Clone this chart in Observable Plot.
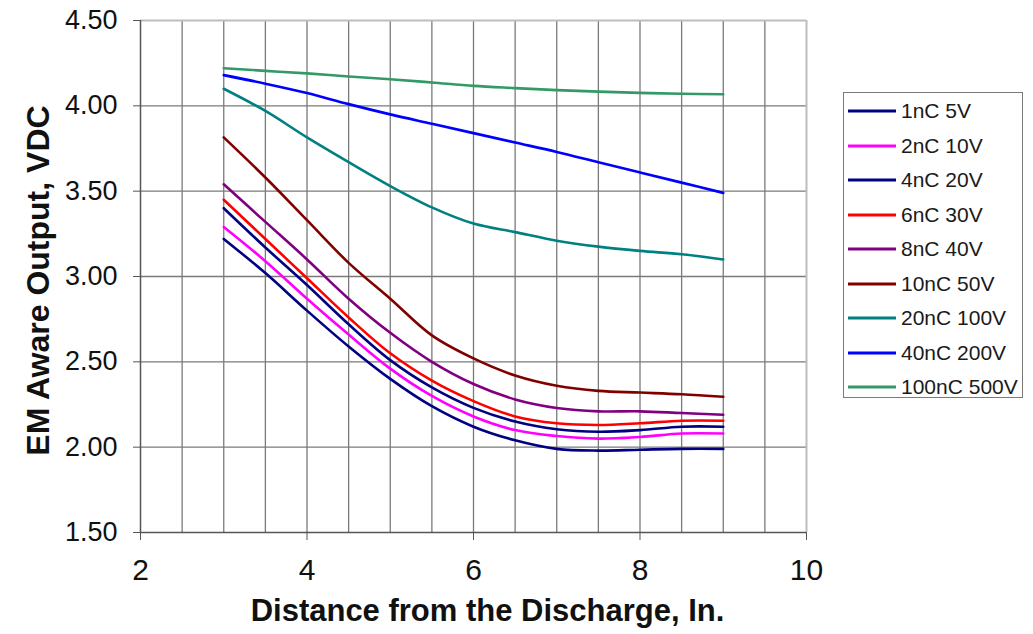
<!DOCTYPE html>
<html><head><meta charset="utf-8">
<script src="https://cdn.jsdelivr.net/npm/d3@7"></script>
<script src="https://cdn.jsdelivr.net/npm/@observablehq/plot@0.6"></script>
<style>
body{margin:0;background:#fff;font-family:"Liberation Sans",Arial,sans-serif;}
#wrap{position:relative;width:1033px;height:634px;overflow:hidden;}
#legend{position:absolute;left:843px;top:92px;width:180px;height:306px;border:1.5px solid #7a7a7a;box-sizing:border-box;background:#fff;}
.item{position:absolute;left:4px;height:24px;display:flex;align-items:center;font-size:21px;color:#1a1a1a;white-space:nowrap;}
.item svg{margin-right:5px;}
</style></head><body><div id="wrap"><div id="chart"></div><div id="legend"></div></div>
<script>
const distances = [3, 3.5, 4, 4.5, 5, 5.5, 6, 6.5, 7, 7.5, 8, 8.5, 9];
const seriesNames = ["1nC 5V", "2nC 10V", "4nC 20V", "6nC 30V", "8nC 40V", "10nC 50V", "20nC 100V", "40nC 200V", "100nC 500V"];
const seriesColors = ["#000080", "#ff00ff", "#000080", "#ff0000", "#800080", "#800000", "#008080", "#0000ff", "#339966"];
const v1nC = [3.22, 3.02, 2.80, 2.59, 2.40, 2.24, 2.12, 2.04, 1.99, 1.98, 1.985, 1.99, 1.99];
const v2nC = [3.29, 3.09, 2.87, 2.66, 2.46, 2.30, 2.18, 2.10, 2.065, 2.05, 2.06, 2.08, 2.08];
const v4nC = [3.40, 3.17, 2.95, 2.72, 2.51, 2.35, 2.23, 2.15, 2.105, 2.09, 2.10, 2.12, 2.12];
const v6nC = [3.45, 3.22, 2.99, 2.76, 2.55, 2.39, 2.27, 2.18, 2.14, 2.13, 2.14, 2.155, 2.155];
const v8nC = [3.54, 3.32, 3.10, 2.87, 2.67, 2.50, 2.37, 2.28, 2.23, 2.21, 2.21, 2.20, 2.19];
const v10nC = [3.815, 3.58, 3.33, 3.08, 2.87, 2.655, 2.52, 2.42, 2.36, 2.33, 2.32, 2.31, 2.295];
const v20nC = [4.10, 3.97, 3.815, 3.67, 3.53, 3.405, 3.31, 3.26, 3.21, 3.175, 3.15, 3.13, 3.10];
const v40nC = [4.18, 4.13, 4.075, 4.01, 3.95, 3.895, 3.84, 3.785, 3.73, 3.67, 3.61, 3.55, 3.49];
const v100nC = [4.22, 4.205, 4.19, 4.172, 4.156, 4.137, 4.117, 4.104, 4.092, 4.083, 4.076, 4.071, 4.068];
const xTicks = [2, 4, 6, 8, 10];
const yTicks = [1.5, 2.0, 2.5, 3.0, 3.5, 4.0, 4.5];
const xGrid = [2, 2.5, 3, 3.5, 4, 4.5, 5, 5.5, 6, 6.5, 7, 7.5, 8, 8.5, 9, 9.5, 10];
const xTitle = "Distance from the Discharge, In.";
const yTitle = "EM Aware Output, VDC";

const allValues = [v1nC, v2nC, v4nC, v6nC, v8nC, v10nC, v20nC, v40nC, v100nC];
const rows = [];
seriesNames.forEach((s, i) => distances.forEach((d, j) => rows.push({series: s, x: d, y: allValues[i][j]})));

const chart = Plot.plot({
  width: 1033, height: 634,
  marginLeft: 140, marginRight: 227, marginTop: 20, marginBottom: 102,
  style: {fontFamily: "'Liberation Sans', Arial, sans-serif", color: "#111", background: "#fff"},
  x: {domain: [2, 10]},
  y: {domain: [1.5, 4.5]},
  color: {domain: seriesNames, range: seriesColors},
  marks: [
    Plot.ruleX(xGrid.filter(v => v > 2 && v < 10), {stroke: "#7a7a7a", strokeWidth: 1.3}),
    Plot.ruleY(yTicks.filter(v => v > 1.5 && v < 4.5), {stroke: "#7a7a7a", strokeWidth: 1.3}),
    Plot.ruleX([10], {stroke: "#bdbdbd", strokeWidth: 2}),
    Plot.ruleY([4.5], {stroke: "#bdbdbd", strokeWidth: 2}),
    Plot.line(rows, {x: "x", y: "y", z: "series", stroke: "series", strokeWidth: 2.6, curve: "catmull-rom"}),
    Plot.ruleX([2], {stroke: "#555", strokeWidth: 1.5}),
    Plot.ruleY([1.5], {stroke: "#555", strokeWidth: 1.5}),
    Plot.axisY({ticks: yTicks, tickFormat: d3.format(".2f"), tickSize: 7, tickPadding: 16, fontSize: 27, label: null, stroke: "#555"}),
    Plot.axisX({ticks: xTicks, tickFormat: d => String(d), tickSize: 8, tickPadding: 18, fontSize: 30, label: null, stroke: "#555"}),
    Plot.text([xTitle], {frameAnchor: "bottom", textAnchor: "middle", dy: 88, dx: 14, fontSize: 31, fontWeight: "bold", fill: "#111"}),
    Plot.text([yTitle], {frameAnchor: "left", textAnchor: "middle", dx: -102, dy: 4, rotate: -90, fontSize: 32, fontWeight: "bold", fill: "#111"})
  ]
});
document.getElementById("chart").appendChild(chart);

const legend = document.getElementById("legend");
seriesNames.forEach((s, i) => {
  const div = document.createElement("div");
  div.className = "item";
  div.style.top = (6 + i * 34.5) + "px";
  div.innerHTML = `<svg width="48" height="6"><line x1="0" y1="3" x2="48" y2="3" stroke="${seriesColors[i]}" stroke-width="3"/></svg><span>${s}</span>`;
  legend.appendChild(div);
});
</script></body></html>
